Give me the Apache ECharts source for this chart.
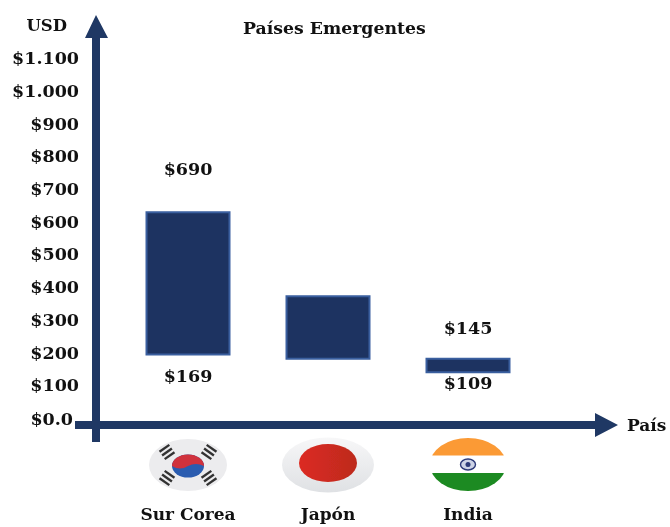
<!DOCTYPE html>
<html><head><meta charset="utf-8">
<style>html,body{margin:0;padding:0;background:#fff}#c{width:670px;height:527px}</style>
<script src="https://cdn.jsdelivr.net/npm/echarts@6/dist/echarts.min.js"></script>
</head><body><div id="c"></div>
<script>
const categories = ['Sur Corea', 'Japón', 'India'];
const barLow = [191, 178, 137];
const barHigh = [632, 375, 184];
const yTickLabels = ['$0.0','$100','$200','$300','$400','$500','$600','$700','$800','$900','$1.000','$1.100'];
const valueLabelText = ['$690', '$169', '$145', '$109'];
const valueLabelCategory = ['Sur Corea', 'Sur Corea', 'India', 'India'];
const valueLabelHeight = [755, 125, 272, 104];

const NAVY = '#1f3864', EDGE = '#3a5f9f';
const FONT = '"DejaVu Serif", serif';

function svgUri(inner){
  return 'data:image/svg+xml;charset=utf-8,' + encodeURIComponent(
   '<svg xmlns="http://www.w3.org/2000/svg" width="100" height="60" viewBox="0 0 100 60">'+inner+'</svg>');
}
function trigram(cx,cy,rot){
  let s='<g transform="translate('+cx+' '+cy+') rotate('+rot+')" fill="#333">';
  [-4.5,0,4.5].forEach(d=>{ s+='<rect x="-6" y="'+(d-1.2)+'" width="12" height="2.4"/>'; });
  return s+'</g>';
}
const flagKorea = svgUri(
 '<defs><filter id="b"><feGaussianBlur stdDeviation="0.7"/></filter></defs><g filter="url(#b)">'+
 '<ellipse cx="50" cy="29" rx="39" ry="26" fill="#ececee"/>'+
 '<ellipse cx="50" cy="30" rx="16" ry="11.5" fill="#2a5cb0"/>'+
 '<path d="M34 30 A16 11.5 0 0 1 66 30 Q58 26 50 30 Q42 35 34 30Z" fill="#d0303c"/>'+
 trigram(29,16,-35)+trigram(71,16,35)+trigram(29,42,35)+trigram(71,42,-35)+'</g>');
const flagJapan = svgUri(
 '<defs><linearGradient id="g" x1="0" y1="0" x2="0" y2="1"><stop offset="0" stop-color="#f7f7f8"/><stop offset="1" stop-color="#dfe1e4"/></linearGradient>'+
 '<linearGradient id="r" x1="0" y1="0" x2="1" y2="0"><stop offset="0" stop-color="#dc2c22"/><stop offset="1" stop-color="#bd2a1e"/></linearGradient>'+
 '<filter id="b"><feGaussianBlur stdDeviation="0.6"/></filter></defs><g filter="url(#b)">'+
 '<ellipse cx="50" cy="29" rx="46" ry="27.5" fill="url(#g)"/>'+
 '<ellipse cx="50" cy="27" rx="29" ry="19" fill="url(#r)"/></g>');
const flagIndia = svgUri(
 '<defs><clipPath id="c"><ellipse cx="50" cy="28.5" rx="38" ry="26.5"/></clipPath><filter id="b"><feGaussianBlur stdDeviation="0.5"/></filter></defs>'+
 '<g filter="url(#b)"><g clip-path="url(#c)"><rect x="0" y="0" width="100" height="60" fill="#fff"/>'+
 '<rect x="0" y="0" width="100" height="19.5" fill="#fb9a35"/>'+
 '<rect x="0" y="37" width="100" height="23" fill="#1e8a20"/></g>'+
 '<ellipse cx="50" cy="28.5" rx="7.5" ry="5.5" fill="#cdd3e6" stroke="#2d3a78" stroke-width="1.4"/>'+
 '<circle cx="50" cy="28.5" r="2.5" fill="#2d3a78"/></g>');

const chart = echarts.init(document.getElementById('c'), null, {renderer:'canvas'});
chart.setOption({
  animation:false,
  backgroundColor:'#fff',
  title:{text:'Países Emergentes',left:238,top:16,
    textStyle:{fontFamily:FONT,fontWeight:'bold',fontSize:17.3,color:'#111'}},
  grid:{left:118,right:132,top:58,bottom:109,containLabel:false},
  xAxis:{type:'category',data:categories,
    axisLine:{show:false},axisTick:{show:false},splitLine:{show:false},
    name:'País',nameLocation:'end',nameGap:89,
    nameTextStyle:{fontFamily:FONT,fontWeight:'bold',fontSize:17,color:'#111',align:'left',verticalAlign:'top'},
    axisLabel:{margin:18,interval:0,
      formatter:(v,i)=>'{f'+i+'|}\n{name|'+v+'}',
      rich:{
        f0:{width:100,height:60,backgroundColor:{image:flagKorea}},
        f1:{width:100,height:60,backgroundColor:{image:flagJapan}},
        f2:{width:100,height:60,backgroundColor:{image:flagIndia}},
        name:{fontFamily:FONT,fontWeight:'bold',fontSize:17,color:'#111',height:20,lineHeight:20,padding:[20,0,0,0]}
      }}},
  yAxis:{type:'value',min:0,max:1100,interval:100,
    axisLine:{show:false},axisTick:{show:false},splitLine:{show:false},
    name:'USD',nameLocation:'end',nameGap:31,
    nameTextStyle:{fontFamily:FONT,fontWeight:'bold',fontSize:16.5,color:'#111',align:'right',padding:[0,51,0,0],verticalAlign:'middle'},
    axisLabel:{margin:39,padding:[3,0,0,0],
      formatter:(v)=>{const i=Math.round(v/100);return i===0?'{z|'+yTickLabels[i]+'}':yTickLabels[i];},
      fontFamily:FONT,fontWeight:'bold',fontSize:17.5,color:'#111',
      rich:{z:{fontFamily:FONT,fontWeight:'bold',fontSize:17.5,color:'#111',padding:[2,6,0,0]}}}},
  series:[
    {type:'bar',stack:'r',barWidth:85,silent:true,itemStyle:{color:'transparent',borderWidth:0},data:barLow},
    {type:'bar',stack:'r',barWidth:85,itemStyle:{color:'#1d3361',borderColor:EDGE,borderWidth:2},
      data:barHigh.map((h,i)=>h-barLow[i])},
    {type:'scatter',symbolSize:0,itemStyle:{opacity:1},
      data:valueLabelCategory.map((c,i)=>[c,valueLabelHeight[i]]),
      label:{show:true,position:'inside',fontFamily:FONT,fontWeight:'bold',fontSize:17.5,color:'#111',
        formatter:p=>valueLabelText[p.dataIndex]}}
  ],
  graphic:[
    {type:'polygon',z:10,shape:{points:[[92,442],[92,38],[85,38],[96,15],[108,38],[100,38],[100,442]]},style:{fill:NAVY}},
    {type:'polygon',z:10,shape:{points:[[75,421],[595,421],[595,413],[618,425],[595,437],[595,429],[75,429]]},style:{fill:NAVY}}
  ]
});
</script></body></html>
